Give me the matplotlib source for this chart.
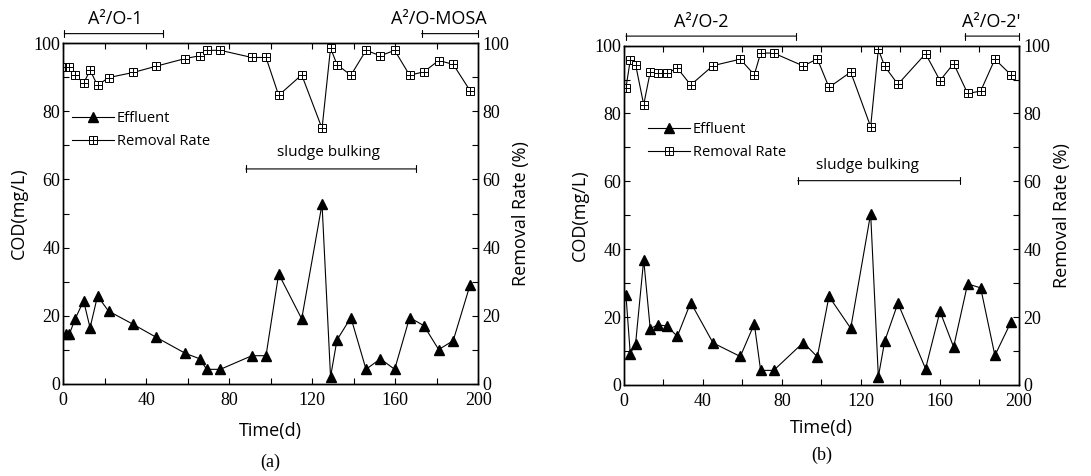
import numpy as np
import matplotlib.pyplot as plt
from matplotlib.legend_handler import HandlerTuple

plt.rcParams['font.family'] = 'Open Sans'

# panel (a): A2/O-1 / A2/O-MOSA
t_a = [1.1, 2.9, 5.8, 9.8, 12.9, 16.5, 21.8, 33.7, 44.5, 58.8, 65.7, 69.1, 75.7, 90.9, 97.7,
       103.8, 114.9, 124.7, 128.8, 131.9, 138.6, 145.9, 152.8, 159.7, 166.9, 173.8, 180.9, 187.9, 196.0]
eff_a = [14.6, 14.6, 19.2, 24.4, 16.5, 25.8, 21.4, 17.5, 13.8, 9.0, 7.4, 4.3, 4.3, 8.3, 8.3,
         32.3, 19.1, 52.8, 2.1, 12.9, 19.5, 4.3, 7.4, 4.3, 19.5, 17.1, 10.1, 12.7, 29.0]
rr_a = [93.0, 93.0, 90.8, 88.2, 92.1, 87.6, 89.9, 91.4, 93.2, 95.5, 96.3, 97.9, 97.9, 95.8, 95.8,
        84.7, 90.7, 75.0, 98.6, 93.7, 90.6, 97.9, 96.3, 97.9, 90.6, 91.6, 94.9, 93.8, 86.1]

# panel (b): A2/O-2 / A2/O-2'
t_b = [1.0, 3.2, 5.9, 10.0, 13.3, 17.0, 21.9, 27.0, 33.8, 45.1, 58.9, 66.0, 69.2, 75.8, 90.8,
       97.9, 103.8, 114.8, 124.9, 128.8, 132.0, 138.7, 152.7, 160.0, 166.9, 174.0, 180.6, 187.8, 195.9]
eff_b = [26.6, 9.2, 12.2, 36.9, 16.6, 17.7, 17.4, 14.3, 24.3, 12.4, 8.4, 18.0, 4.3, 4.3, 12.5,
         8.3, 26.1, 16.7, 50.5, 2.4, 12.9, 24.1, 4.8, 21.7, 11.2, 29.8, 28.6, 8.7, 18.5]
rr_b = [87.5, 95.7, 94.4, 82.6, 92.2, 91.8, 91.9, 93.4, 88.4, 94.1, 96.0, 91.4, 97.8, 97.8, 94.0,
        96.1, 87.7, 92.2, 76.1, 98.9, 93.9, 88.6, 97.6, 89.7, 94.7, 85.9, 86.6, 96.0, 91.4]

serif = 'Liberation Serif'


def bracket(ax, x0, x1, y):
    ax.annotate('', xy=(x0, y), xytext=(x1, y), annotation_clip=False,
                arrowprops=dict(arrowstyle='|-|,widthA=0.25,widthB=0.25', color='k',
                                lw=0.8, shrinkA=0, shrinkB=0))


def panel(rect, t, eff, rr, phases, bulk, leg_anchor, xpad, caption, cap_x, cap_y):
    ax = fig.add_axes(rect)
    ax2 = ax.twinx()
    for a in (ax, ax2):
        a.set_xlim(0, 200)
        a.set_ylim(0, 100)
        a.set_yticks(np.arange(0, 101, 20))
        a.set_yticks(np.arange(10, 100, 20), minor=True)
        for s in a.spines.values():
            s.set_linewidth(1.0)
    ax.set_xticks(np.arange(0, 201, 40))
    ax.set_xticks(np.arange(20, 200, 40), minor=True)
    ax.tick_params(which='both', direction='in', top=True, length=4, width=0.8)
    ax2.tick_params(which='both', direction='in', length=4, width=0.8)
    for lab in ax.get_xticklabels() + ax.get_yticklabels() + ax2.get_yticklabels():
        lab.set_fontfamily(serif)
        lab.set_fontsize(13)
    ax.tick_params(axis='y', pad=2)
    ax.tick_params(axis='x', pad=6)
    ax2.tick_params(axis='y', pad=3)

    eff_line, = ax.plot(t, eff, color='k', lw=0.8, marker='^', ms=7.5, mfc='k', mec='k')
    rr_line, = ax2.plot(t, rr, color='k', lw=0.8, marker='s', ms=5.5, mfc='white',
                        mec='k', mew=0.7)
    rr_plus, = ax2.plot(t, rr, ls='none', marker='+', ms=5.5, mec='k', mew=0.7)

    ax.set_xlabel('Time(d)', fontsize=13, labelpad=xpad)
    ax.set_ylabel('COD(mg/L)', fontsize=13, labelpad=4)
    ax2.set_ylabel('Removal Rate (%)', fontsize=13, labelpad=2)

    for name, x0, x1, tx in phases:
        bracket(ax, x0, x1, 102.8)
        ax.text(tx, 107, name, fontsize=13, ha='center', va='center', clip_on=False)

    bx0, bx1, by, tx, ty = bulk
    bracket(ax, bx0, bx1, by)
    ax.text(tx, ty, 'sludge bulking', fontsize=11, ha='center', va='center')

    ax2.legend([eff_line, (rr_line, rr_plus)], ['Effluent', 'Removal Rate'],
               handler_map={tuple: HandlerTuple(ndivide=1)},
               loc='upper left', bbox_to_anchor=leg_anchor, frameon=False,
               fontsize=10.5, handlelength=2.9, handletextpad=0.2,
               borderaxespad=0, borderpad=0, labelspacing=0.55)

    fig.text(cap_x, cap_y, caption, fontsize=13, family=serif, ha='center', va='center')
    return ax


fig = plt.figure(figsize=(10.91, 4.76), dpi=100)

panel([0.0580, 0.1933, 0.3804, 0.7160], t_a, eff_a, rr_a,
      [('A²/O-1', 0.5, 48, 25), ('A²/O-MOSA', 172.7, 200, 181)],
      (88, 170, 63.1, 128, 67.8), (0.02, 0.80), 9, '(a)', 0.2475, 0.029)
panel([0.5719, 0.1912, 0.3621, 0.7130], t_b, eff_b, rr_b,
      [('A²/O-2', 1, 87, 39.3), ("A²/O-2'", 172.7, 200, 186)],
      (88, 170, 60.2, 123.4, 64.8), (0.06, 0.775), 6, '(b)', 0.7535, 0.044)

fig.savefig('out.png', dpi=100)
